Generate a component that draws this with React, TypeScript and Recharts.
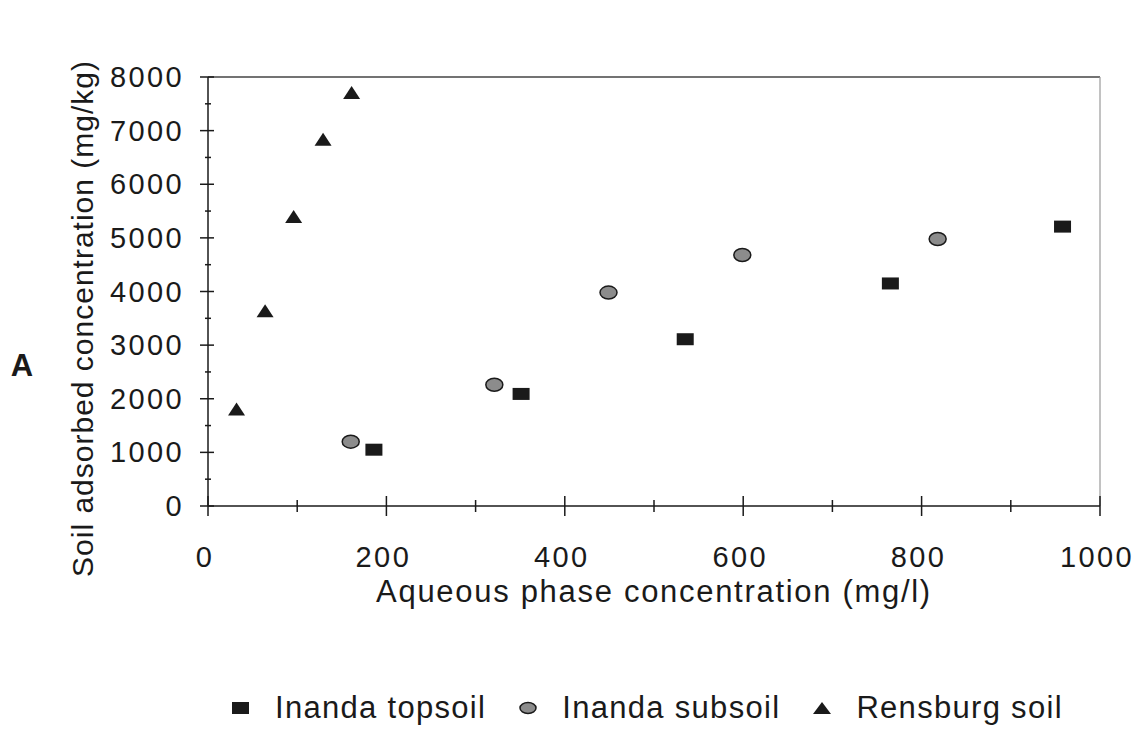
import React from 'react';
import { ScatterChart, Scatter, XAxis, YAxis, ReferenceLine } from 'recharts';

// aqueous phase concentration (mg/l) vs soil adsorbed concentration (mg/kg)
const topsoilX = [186, 351, 535, 765, 958];
const topsoilY = [1050, 2090, 3110, 4150, 5210];
const subsoilX = [160, 321, 449, 599, 818];
const subsoilY = [1200, 2260, 3980, 4680, 4980];
const rensburgX = [32, 64, 96, 129, 161];
const rensburgY = [1800, 3630, 5390, 6830, 7700];

const xTicks = [0, 100, 200, 300, 400, 500, 600, 700, 800, 900, 1000];
const yTicks = [0, 500, 1000, 1500, 2000, 2500, 3000, 3500, 4000, 4500, 5000, 5500, 6000, 6500, 7000, 7500, 8000];

const seriesNames = ['Inanda topsoil', 'Inanda subsoil', 'Rensburg soil'];

const toPoints = (xs: number[], ys: number[]) => xs.map((x, i) => ({ x, y: ys[i] }));

const FONT = '"Liberation Sans", Arial, sans-serif';
const INK = '#1a1a1a';

const SquareMark = ({ cx, cy }: any) => <rect x={cx - 8.5} y={cy - 6} width={17} height={12} fill={INK} />;
const CircleMark = ({ cx, cy }: any) => (
  <ellipse cx={cx} cy={cy} rx={8.5} ry={6.5} fill="#8c8c8c" stroke={INK} strokeWidth={1.5} />
);
const TriangleMark = ({ cx, cy }: any) => (
  <polygon points={`${cx - 8.5},${cy + 6} ${cx + 8.5},${cy + 6} ${cx},${cy - 7}`} fill={INK} />
);

const XTick = ({ x, y, payload }: any) => {
  const v = payload.value;
  const major = v % 200 === 0;
  return (
    <g>
      <line x1={x} x2={x} y1={major ? y - 10 : y - 6} y2={major ? y + 10 : y + 6} stroke={INK} strokeWidth={1.5} />
      {major && (
        <text x={x - 3} y={y + 61} textAnchor="middle" fontSize={29} letterSpacing={2.4} fill={INK} fontFamily={FONT}>
          {v}
        </text>
      )}
    </g>
  );
};

const YTick = ({ x, y, payload }: any) => {
  const v = payload.value;
  const major = v % 1000 === 0;
  return (
    <g>
      <line x1={major ? x - 8 : x - 3} x2={major ? x + 6 : x + 3} y1={y} y2={y} stroke={INK} strokeWidth={1.5} />
      {major && (
        <text x={x - 24} y={y + 10} textAnchor="end" fontSize={29} letterSpacing={2.4} fill={INK} fontFamily={FONT}>
          {v}
        </text>
      )}
    </g>
  );
};

const XTitle = ({ viewBox }: any) => (
  <text x={viewBox.x + viewBox.width / 2} y={viewBox.y + 96} textAnchor="middle" fontSize={31} letterSpacing={1.7} fill={INK} fontFamily={FONT}>
    Aqueous phase concentration (mg/l)
  </text>
);

const YTitle = ({ viewBox }: any) => {
  const cx = viewBox.x - 55;
  const cy = viewBox.y + viewBox.height / 2 + 27;
  return (
    <g>
      <text x={cx} y={cy} transform={`rotate(-90 ${cx} ${cy})`} textAnchor="middle" fontSize={30} letterSpacing={1} fill={INK} fontFamily={FONT}>
        Soil adsorbed concentration (mg/kg)
      </text>
      <text x={22} y={cy + 57} textAnchor="middle" fontSize={31} fontWeight="bold" fill={INK} fontFamily={FONT}>
        A
      </text>
    </g>
  );
};

const legendMarks = [
  <svg width={20} height={20} key="s"><rect x={1} y={4} width={17} height={12} fill={INK} /></svg>,
  <svg width={20} height={20} key="c"><ellipse cx={10} cy={10} rx={8} ry={5.5} fill="#8c8c8c" stroke={INK} strokeWidth={1.5} /></svg>,
  <svg width={20} height={20} key="t"><polygon points="1,16 19,16 10,4" fill={INK} /></svg>,
];

const ChartLegend = () => (
  <div
    style={{
      position: 'absolute', top: 690, left: 231, display: 'flex', alignItems: 'center',
      fontFamily: FONT, fontSize: 31, letterSpacing: 1.3, color: INK, whiteSpace: 'nowrap',
    }}
  >
    {seriesNames.map((name, i) => (
      <div key={name} style={{ display: 'flex', alignItems: 'center', marginRight: 32 }}>
        {legendMarks[i]}
        <span style={{ marginLeft: 24 }}>{name}</span>
      </div>
    ))}
  </div>
);

export default function App() {
  return (
    <div style={{ position: 'absolute', left: 0, top: 0, width: 1138, height: 734, background: '#fff' }}>
      <ScatterChart width={1138} height={734} margin={{ top: 77, right: 38, bottom: 198, left: 148 }}>
        <XAxis
          type="number"
          dataKey="x"
          domain={[0, 1000]}
          ticks={xTicks}
          interval={0}
          height={30}
          tickSize={0}
          tickMargin={0}
          tickLine={false}
          tick={<XTick />}
          axisLine={{ stroke: INK, strokeWidth: 1.5 }}
          label={<XTitle />}
        />
        <YAxis
          type="number"
          dataKey="y"
          domain={[0, 8000]}
          ticks={yTicks}
          interval={0}
          width={60}
          tickSize={0}
          tickMargin={0}
          tickLine={false}
          tick={<YTick />}
          axisLine={{ stroke: INK, strokeWidth: 1.5 }}
          label={<YTitle />}
        />
        <ReferenceLine y={8000} stroke="#444" strokeWidth={1.5} />
        <ReferenceLine x={1000} stroke="#999" strokeWidth={1.2} />
        <Scatter name={seriesNames[0]} data={toPoints(topsoilX, topsoilY)} shape={SquareMark} isAnimationActive={false} />
        <Scatter name={seriesNames[1]} data={toPoints(subsoilX, subsoilY)} shape={CircleMark} isAnimationActive={false} />
        <Scatter name={seriesNames[2]} data={toPoints(rensburgX, rensburgY)} shape={TriangleMark} isAnimationActive={false} />
      </ScatterChart>
      <ChartLegend />
    </div>
  );
}
